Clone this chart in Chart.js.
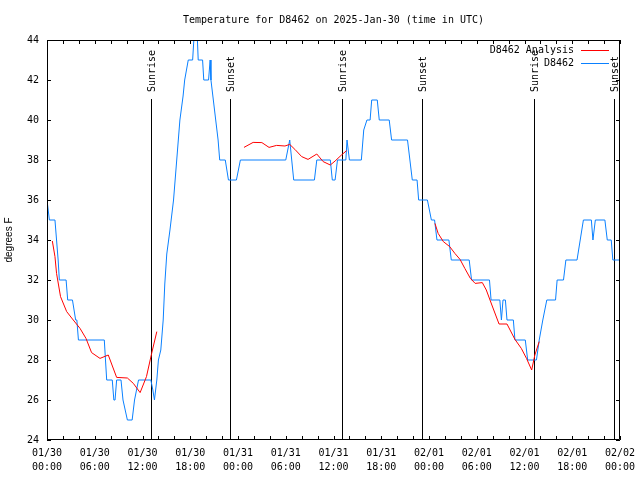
<!DOCTYPE html>
<html>
<head>
<meta charset="utf-8">
<script src="https://cdn.jsdelivr.net/npm/chart.js@4.4.1/dist/chart.umd.min.js"></script>
<style>
  html, body { margin: 0; padding: 0; background: #fff; }
</style>
</head>
<body>
<canvas id="chart" width="640" height="480"></canvas>
<script>
// hours since 2025-01-30 00:00 UTC
var obsHours = [0.0, 0.3, 1.0, 1.2, 1.4, 1.55, 2.4, 2.6, 3.2, 3.6, 3.75, 3.95, 7.2, 7.35, 7.5, 8.2, 8.4, 8.55, 8.75, 9.3, 9.55, 10.1, 10.7, 11.0, 11.5,
  13.05, 13.3, 13.5, 13.8, 14.0, 14.3, 14.6, 14.8, 15.05, 15.45, 15.9, 16.3, 16.7, 17.1, 17.3, 17.75, 18.3, 18.45, 18.9, 19.0, 19.55, 19.7,
  20.3, 20.5, 20.6, 20.9, 21.2, 21.5, 21.7, 22.4, 22.8, 23.8, 24.3, 30.0, 30.5, 31.0, 33.6, 33.9, 35.6, 35.85, 36.2, 36.5, 37.55, 37.7, 38.0,
  39.5, 39.8, 40.2, 40.6, 40.8, 41.5, 41.75, 43.0, 43.3, 45.3, 45.6, 45.9, 46.5, 46.7, 47.8, 48.3, 48.7, 49.0, 50.5, 50.8, 53.05, 53.35,
  55.6, 55.8, 56.9, 57.1, 57.3, 57.6, 57.8, 58.6, 58.8, 60.1, 60.4, 61.5, 61.85, 62.3, 62.8, 63.9, 64.1, 64.9, 65.2, 66.6, 67.0, 67.4,
  68.4, 68.6, 68.9, 70.1, 70.4, 70.9, 71.1, 72.0];
var obsTemps = [36, 35, 35, 34, 33, 32, 32, 31, 31, 30, 30, 29, 29, 28, 27, 27, 26, 26, 27, 27, 26, 25, 25, 26, 27,
  27, 26.5, 26, 27, 28, 28.5, 30, 31.8, 33.3, 34.5, 36, 38, 40, 41.2, 42, 43, 43, 44, 44, 43, 43, 42,
  42, 43, 42, 41, 40, 39, 38, 38, 37, 37, 38, 38, 39, 37, 37, 38, 38, 37, 37, 38, 38, 39, 38,
  38, 39.5, 40, 40, 41, 41, 40, 40, 39, 39, 38, 37, 37, 36, 36, 35, 35, 34, 34, 33, 33, 32,
  32, 31, 31, 30, 31, 31, 30, 30, 29, 29, 28, 28, 29, 30, 31, 31, 32, 32, 33, 33, 34, 35,
  35, 34, 35, 35, 34, 34, 33, 33];

// analysis has gaps (null breaks the line)
var anaHours = [0.67, 1.0, 1.2, 1.7, 2.47, 3.3, 4.15, 4.9, 5.6, 6.66, 7.7, 8.75, 10.1, 10.85, 11.7, 12.5, 13.15, 13.8,
  18,
  24.75, 25.9, 27.0, 27.9, 28.85, 29.9, 30.5, 31.15, 32.0, 32.8, 33.9, 34.7, 35.6, 36.2, 37.0, 37.65,
  42,
  48.75, 49.15, 49.8, 50.6, 51.25, 51.9, 52.5, 53.2, 53.8, 54.7, 55.2, 55.9, 56.8, 57.8, 58.8, 59.6, 60.25, 60.9, 61.3, 61.85];
var anaTemps = [33.95, 33.17, 32.33, 31.17, 30.42, 30.0, 29.58, 29.08, 28.37, 28.08, 28.25, 27.13, 27.1, 26.83, 26.37, 27.17, 28.33, 29.42,
  null,
  38.63, 38.88, 38.87, 38.63, 38.73, 38.7, 38.78, 38.53, 38.17, 38.03, 38.3, 37.92, 37.75, 37.95, 38.25, 38.47,
  null,
  34.83, 34.33, 33.92, 33.67, 33.33, 33.03, 32.58, 32.08, 31.83, 31.87, 31.5, 30.75, 29.8, 29.8, 29.03, 28.58, 28.08, 27.5, 28.25, 28.92];

var sunHours = [13.1, 23.03, 37.1, 47.15, 61.2, 71.27];
var sunLabels = ['Sunrise', 'Sunset', 'Sunrise', 'Sunset', 'Sunrise', 'Sunset'];

var titleText = 'Temperature for D8462 on 2025-Jan-30 (time in UTC)';
var startUTC = Date.UTC(2025, 0, 30);

function pad2(n) { return String(n).padStart(2, '0'); }

function fmtHour(h) {
  var d = new Date(startUTC + h * 3600000);
  return [pad2(d.getUTCMonth() + 1) + '/' + pad2(d.getUTCDate()),
          pad2(d.getUTCHours()) + ':' + pad2(d.getUTCMinutes())];
}

function toPoints(xs, ys) {
  return xs.map(function(x, i) { return { x: x, y: ys[i] }; });
}

var FONT = '10px "DejaVu Sans Mono"';

// gnuplot look: frame, inward ticks, sun lines, title, legend
var gnuplotBits = {
  id: 'gnuplotBits',
  beforeDatasetsDraw: function(chart) {
    var c = chart.ctx, a = chart.chartArea, xs = chart.scales.x;
    c.save();
    c.strokeStyle = '#000';
    c.fillStyle = '#000';
    c.lineWidth = 1;
    c.font = FONT;
    for (var i = 0; i < sunHours.length; i++) {
      var px = Math.round(xs.getPixelForValue(sunHours[i])) + 0.5;
      c.beginPath();
      c.moveTo(px, a.top + 59);
      c.lineTo(px, a.bottom);
      c.stroke();
      c.save();
      c.translate(px + 1, a.top + 52);
      c.rotate(-Math.PI / 2);
      c.textAlign = 'left';
      c.textBaseline = 'middle';
      c.fillText(sunLabels[i], 0, 0);
      c.restore();
    }
    c.restore();
  },
  afterDraw: function(chart) {
    var c = chart.ctx, a = chart.chartArea, xs = chart.scales.x, ys = chart.scales.y;
    c.save();
    c.strokeStyle = '#000';
    c.lineWidth = 1;
    c.beginPath();
    c.rect(a.left + 0.5, a.top + 0.5, a.right - a.left - 1, a.bottom - a.top - 1);
    // x ticks every 2h
    for (var h = 0; h <= 72; h += 2) {
      var px = Math.round(xs.getPixelForValue(h)) + 0.5;
      c.moveTo(px, a.bottom); c.lineTo(px, a.bottom - 4);
      c.moveTo(px, a.top); c.lineTo(px, a.top + 4);
    }
    ys.ticks.forEach(function(t) {
      var py = Math.round(ys.getPixelForValue(t.value)) + 0.5;
      c.moveTo(a.left, py); c.lineTo(a.left + 4, py);
      c.moveTo(a.right, py); c.lineTo(a.right - 4, py);
    });
    c.stroke();

    c.fillStyle = '#000';
    c.font = FONT;
    c.textAlign = 'center';
    c.textBaseline = 'middle';
    c.fillText(titleText, (a.left + a.right) / 2, 20);

    // legend, top right
    var ds = chart.data.datasets;
    c.textAlign = 'right';
    for (var i = 0; i < ds.length; i++) {
      var ly = a.top + 10 + i * 13;
      c.fillStyle = '#000';
      c.fillText(ds[i].label, a.right - 46, ly);
      c.strokeStyle = ds[i].borderColor;
      c.beginPath();
      c.moveTo(a.right - 39, ly + 0.5);
      c.lineTo(a.right - 11, ly + 0.5);
      c.stroke();
    }
    c.restore();
  }
};

Chart.defaults.font.family = '"DejaVu Sans Mono"';
Chart.defaults.font.size = 10;
Chart.defaults.color = '#000';

var ctx = document.getElementById('chart').getContext('2d');
var tempChart = new Chart(ctx, {
  type: 'line',
  data: {
    datasets: [
      { label: 'D8462 Analysis', data: toPoints(anaHours, anaTemps), borderColor: '#ff0000',
        borderWidth: 1, pointRadius: 0, spanGaps: false, tension: 0 },
      { label: 'D8462', data: toPoints(obsHours, obsTemps), borderColor: '#0a80ff',
        borderWidth: 1, pointRadius: 0, tension: 0 }
    ]
  },
  options: {
    responsive: false,
    animation: false,
    devicePixelRatio: 1,
    layout: { padding: { top: 40, right: 20, left: 0, bottom: 0 } },
    plugins: { legend: { display: false }, tooltip: { enabled: false } },
    scales: {
      x: {
        type: 'linear', min: 0, max: 72,
        grid: { display: false, drawTicks: false, tickLength: 0 },
        border: { display: false },
        ticks: { stepSize: 6, autoSkip: false, maxRotation: 0, padding: 7,
                 font: { lineHeight: 1.35 }, callback: fmtHour },
        afterFit: function(s) { s.height = 40; s.paddingLeft = 0; s.paddingRight = 0; }
      },
      y: {
        min: 24, max: 44,
        grid: { display: false, drawTicks: false, tickLength: 0 },
        border: { display: false },
        ticks: { stepSize: 2, padding: 8 },
        title: { display: true, text: 'degrees F', padding: { top: 3, bottom: 0 },
                 font: { family: '"Liberation Sans"', size: 10 } },
        afterFit: function(s) { s.width = 47; s.paddingTop = 0; s.paddingBottom = 0; }
      }
    }
  },
  plugins: [gnuplotBits]
});
</script>
</body>
</html>
